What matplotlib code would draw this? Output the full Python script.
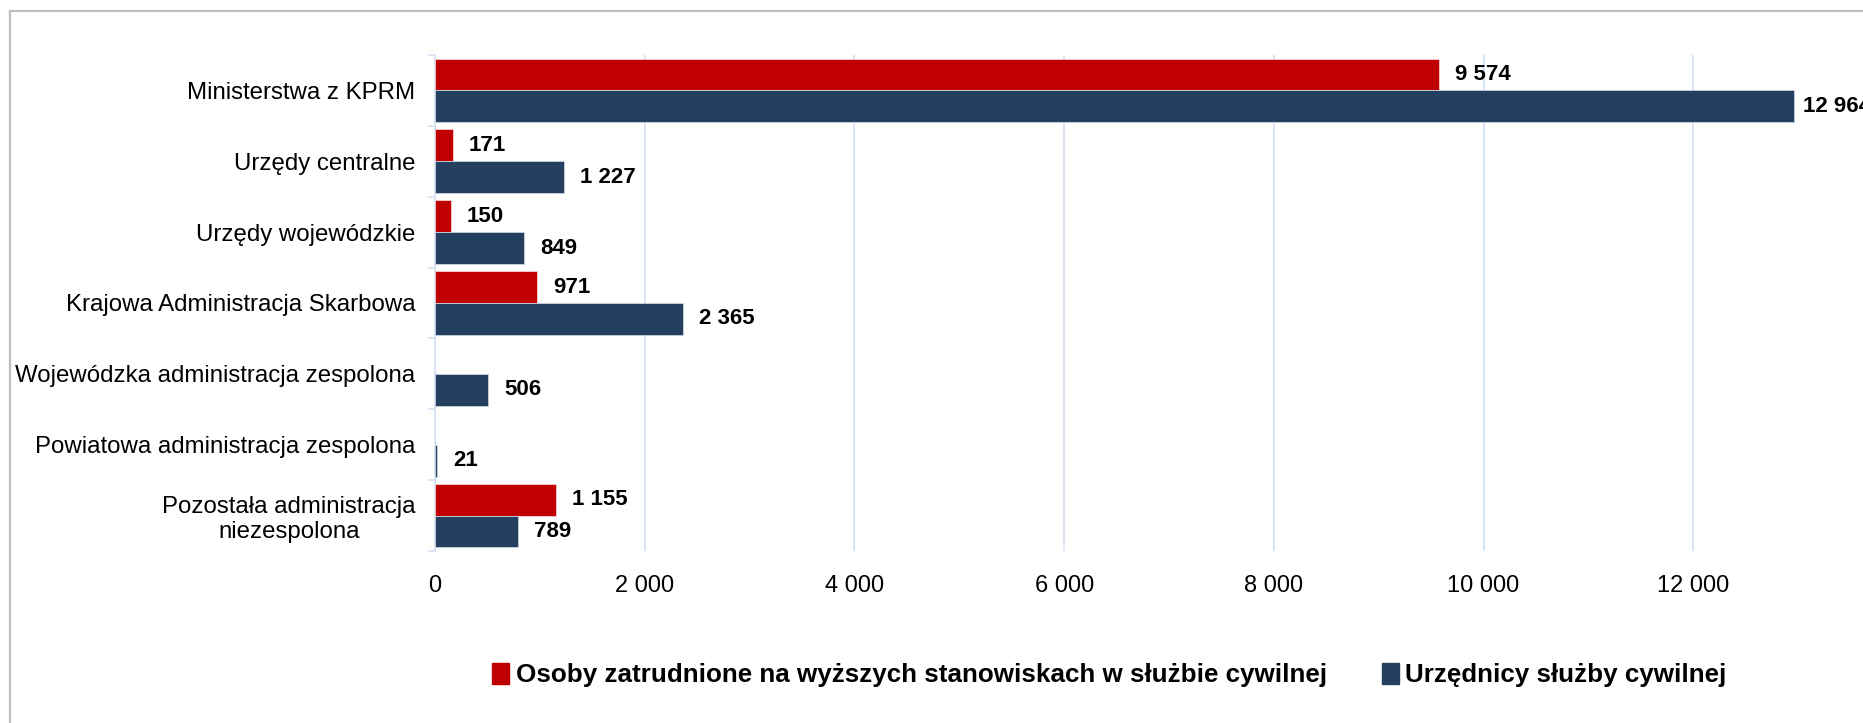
import matplotlib
matplotlib.use("Agg")
import matplotlib.pyplot as plt
import numpy as np
from matplotlib.lines import Line2D
from matplotlib.patches import Patch
from matplotlib.ticker import FuncFormatter, FixedLocator

categories = [
    "Ministerstwa z KPRM",
    "Urzędy centralne",
    "Urzędy wojewódzkie",
    "Krajowa Administracja Skarbowa",
    "Wojewódzka administracja zespolona",
    "Powiatowa administracja zespolona",
    "Pozostała administracja\nniezespolona",
]
wyzsze = [9574, 171, 150, 971, None, None, 1155]
urzednicy = [12964, 1227, 849, 2365, 506, 21, 789]
series_names = [
    "Osoby zatrudnione na wyższych stanowiskach w służbie cywilnej",
    "Urzędnicy służby cywilnej",
]

RED = "#C00000"
BLUE = "#243F60"
GRID = "#D6E3F5"

plt.rcParams["font.family"] = ["Liberation Sans", "DejaVu Sans"]


def fmt(v):
    return "{:,}".format(int(v)).replace(",", " ")


fig = plt.figure(figsize=(18.63, 7.23), dpi=100)
ax = fig.add_axes([435 / 1863, 1 - 551 / 723, 1468 / 1863, 496 / 723])

n = len(categories)
y = np.arange(n)
h = 0.45

# tylko kategorie, dla ktorych sa dane
red_y = [yi for yi, v in zip(y, wyzsze) if v is not None]
red_v = [v for v in wyzsze if v is not None]

ax.barh(np.array(red_y) - h / 2, red_v, height=h, color=RED,
        edgecolor="#f4d0d0", linewidth=0.6, zorder=3)
ax.barh(y + h / 2, urzednicy, height=h, color=BLUE,
        edgecolor="#c9d3e0", linewidth=0.6, zorder=3)


def label(v, yy):
    # przy samej krawedzi etykieta jest blizej slupka (jak w Excelu)
    off = 6.5 if v > 12000 else 11.5
    ax.annotate(fmt(v), (v, yy), xytext=(off, 0),
                textcoords="offset points", ha="left", va="center",
                fontsize=16, fontweight="bold", annotation_clip=False)


for yi, v in zip(red_y, red_v):
    label(v, yi - h / 2)
for yi, v in zip(y, urzednicy):
    label(v, yi + h / 2)

ax.set_xlim(0, 14000)
ax.set_ylim(n - 0.5, -0.5)
ax.xaxis.set_major_locator(FixedLocator(np.arange(0, 12001, 2000)))
ax.xaxis.set_major_formatter(FuncFormatter(lambda v, p: fmt(v)))
ax.grid(axis="x", color=GRID, linewidth=1.3, zorder=0)
ax.tick_params(axis="x", length=0, pad=17, labelsize=17)

ax.set_yticks(y)
ax.set_yticklabels(categories, fontsize=17.3, multialignment="center")
ax.set_yticks(np.arange(-0.5, n, 1), minor=True)
ax.tick_params(axis="y", which="major", length=0, pad=14)
ax.tick_params(axis="y", which="minor", length=5, color=GRID, width=1.3)

for s in ["top", "right", "bottom"]:
    ax.spines[s].set_visible(False)
ax.spines["left"].set_color(GRID)
ax.spines["left"].set_linewidth(1.3)

handles = [Patch(color=RED), Patch(color=BLUE)]
fig.legend(handles, series_names, loc="center", bbox_to_anchor=(0.5955, 0.066),
           ncol=2, frameon=False, handlelength=0.65, handleheight=0.85,
           handletextpad=0.25, columnspacing=2.1,
           prop={"weight": "bold", "size": 18.75})

# ramka wykresu (widoczna tylko u gory i z lewej)
fig.add_artist(Line2D([9.5 / 1863, 1], [1 - 10.5 / 723, 1 - 10.5 / 723],
                      color="#BFBFBF", linewidth=1.6))
fig.add_artist(Line2D([9.5 / 1863, 9.5 / 1863], [0, 1 - 10.5 / 723],
                      color="#BFBFBF", linewidth=1.6))

fig.savefig("out.png", dpi=100)
